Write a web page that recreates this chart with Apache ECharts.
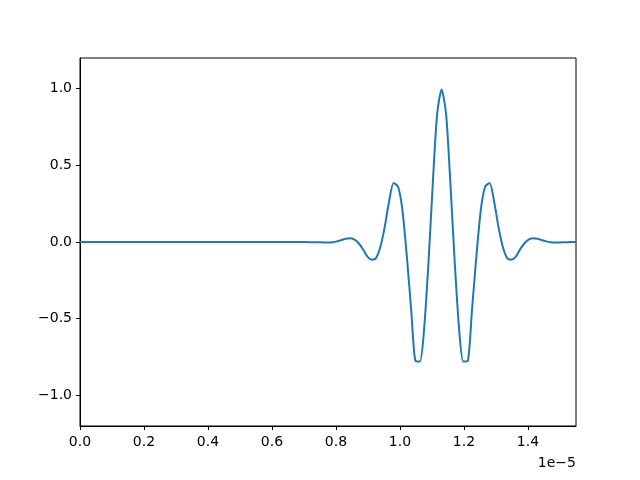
<!DOCTYPE html>
<html>
<head>
<meta charset="utf-8">
<script src="https://cdn.jsdelivr.net/npm/echarts@6/dist/echarts.min.js"></script>
<style>html,body{margin:0;padding:0;background:#fff;}#c{width:640px;height:480px;}</style>
</head>
<body>
<div id="c"></div>
<script>
// x values in units of 1e-5
var xValues = [0, 0.1, 0.2, 0.3, 0.4, 0.5, 0.6, 0.7,
  0.748, 0.762, 0.775, 0.789, 0.803, 0.816, 0.830, 0.844, 0.857, 0.871,
  0.885, 0.898, 0.912, 0.925, 0.939, 0.953, 0.966, 0.980, 0.994, 1.007,
  1.021, 1.035, 1.048, 1.062, 1.075, 1.089, 1.103, 1.116, 1.130, 1.144,
  1.157, 1.171, 1.185, 1.198, 1.212, 1.225, 1.239, 1.253, 1.266, 1.280,
  1.294, 1.307, 1.321, 1.335, 1.348, 1.362, 1.375, 1.389, 1.403, 1.416,
  1.430, 1.444, 1.457, 1.471, 1.485, 1.498, 1.512, 1.525, 1.539, 1.550];
var yValues = [0, 0, 0, 0, 0, 0, 0, 0,
  -0.002, -0.003, -0.003, -0.001, 0.004, 0.012, 0.021, 0.025, 0.017, -0.008,
  -0.049, -0.095, -0.115, -0.105, -0.030, 0.107, 0.266, 0.385, 0.360, 0.217,
  -0.085, -0.443, -0.775, -0.780, -0.576, -0.132, 0.402, 0.834, 0.995, 0.834,
  0.402, -0.132, -0.576, -0.780, -0.775, -0.443, -0.085, 0.217, 0.360, 0.385,
  0.266, 0.107, -0.030, -0.105, -0.115, -0.095, -0.049, -0.008, 0.017, 0.025,
  0.021, 0.012, 0.004, -0.001, -0.003, -0.003, -0.002, -0.001, 0, 0];
var xTicks = [0, 0.2, 0.4, 0.6, 0.8, 1.0, 1.2, 1.4];
var yTicks = [-1.0, -0.5, 0.0, 0.5, 1.0];
var offsetText = '1e\u22125';

var data = xValues.map(function (x, i) { return [x, yValues[i]]; });
function fmt(v) { return v < 0 ? '\u2212' + (-v).toFixed(1) : v.toFixed(1); }
var font = 'DejaVu Sans';
var chart = echarts.init(document.getElementById('c'), null, {renderer: 'canvas'});
chart.setOption({
  animation: false,
  backgroundColor: '#fff',
  grid: {left: 80, right: 64, top: 58, bottom: 54, show: true, borderColor: '#000', borderWidth: 1, backgroundColor: 'transparent'},
  xAxis: {
    type: 'value', min: 0, max: 1.55,
    axisLine: {show: true, onZero: false, lineStyle: {color: '#000', width: 1}},
    axisTick: {show: true, inside: false, length: 4, lineStyle: {color: '#000'}, customValues: xTicks},
    axisLabel: {show: true, color: '#000', fontFamily: font, fontSize: 14, margin: 9, formatter: fmt, customValues: xTicks},
    splitLine: {show: false}
  },
  yAxis: {
    type: 'value', min: -1.2, max: 1.2,
    axisLine: {show: true, onZero: false, lineStyle: {color: '#000', width: 1}},
    axisTick: {show: true, inside: false, length: 4, lineStyle: {color: '#000'}, customValues: yTicks},
    axisLabel: {show: true, color: '#000', fontFamily: font, fontSize: 14, margin: 8, formatter: fmt, customValues: yTicks},
    splitLine: {show: false}
  },
  graphic: [{
    type: 'text', right: 64, top: 456,
    style: {text: offsetText, fill: '#000', font: '14px "DejaVu Sans"', textAlign: 'right'}
  }],
  series: [{
    type: 'line', data: data, showSymbol: false, clip: true, smooth: 0.25,
    lineStyle: {color: '#1f77b4', width: 2},
    itemStyle: {color: '#1f77b4'}
  }]
});
</script>
</body>
</html>
